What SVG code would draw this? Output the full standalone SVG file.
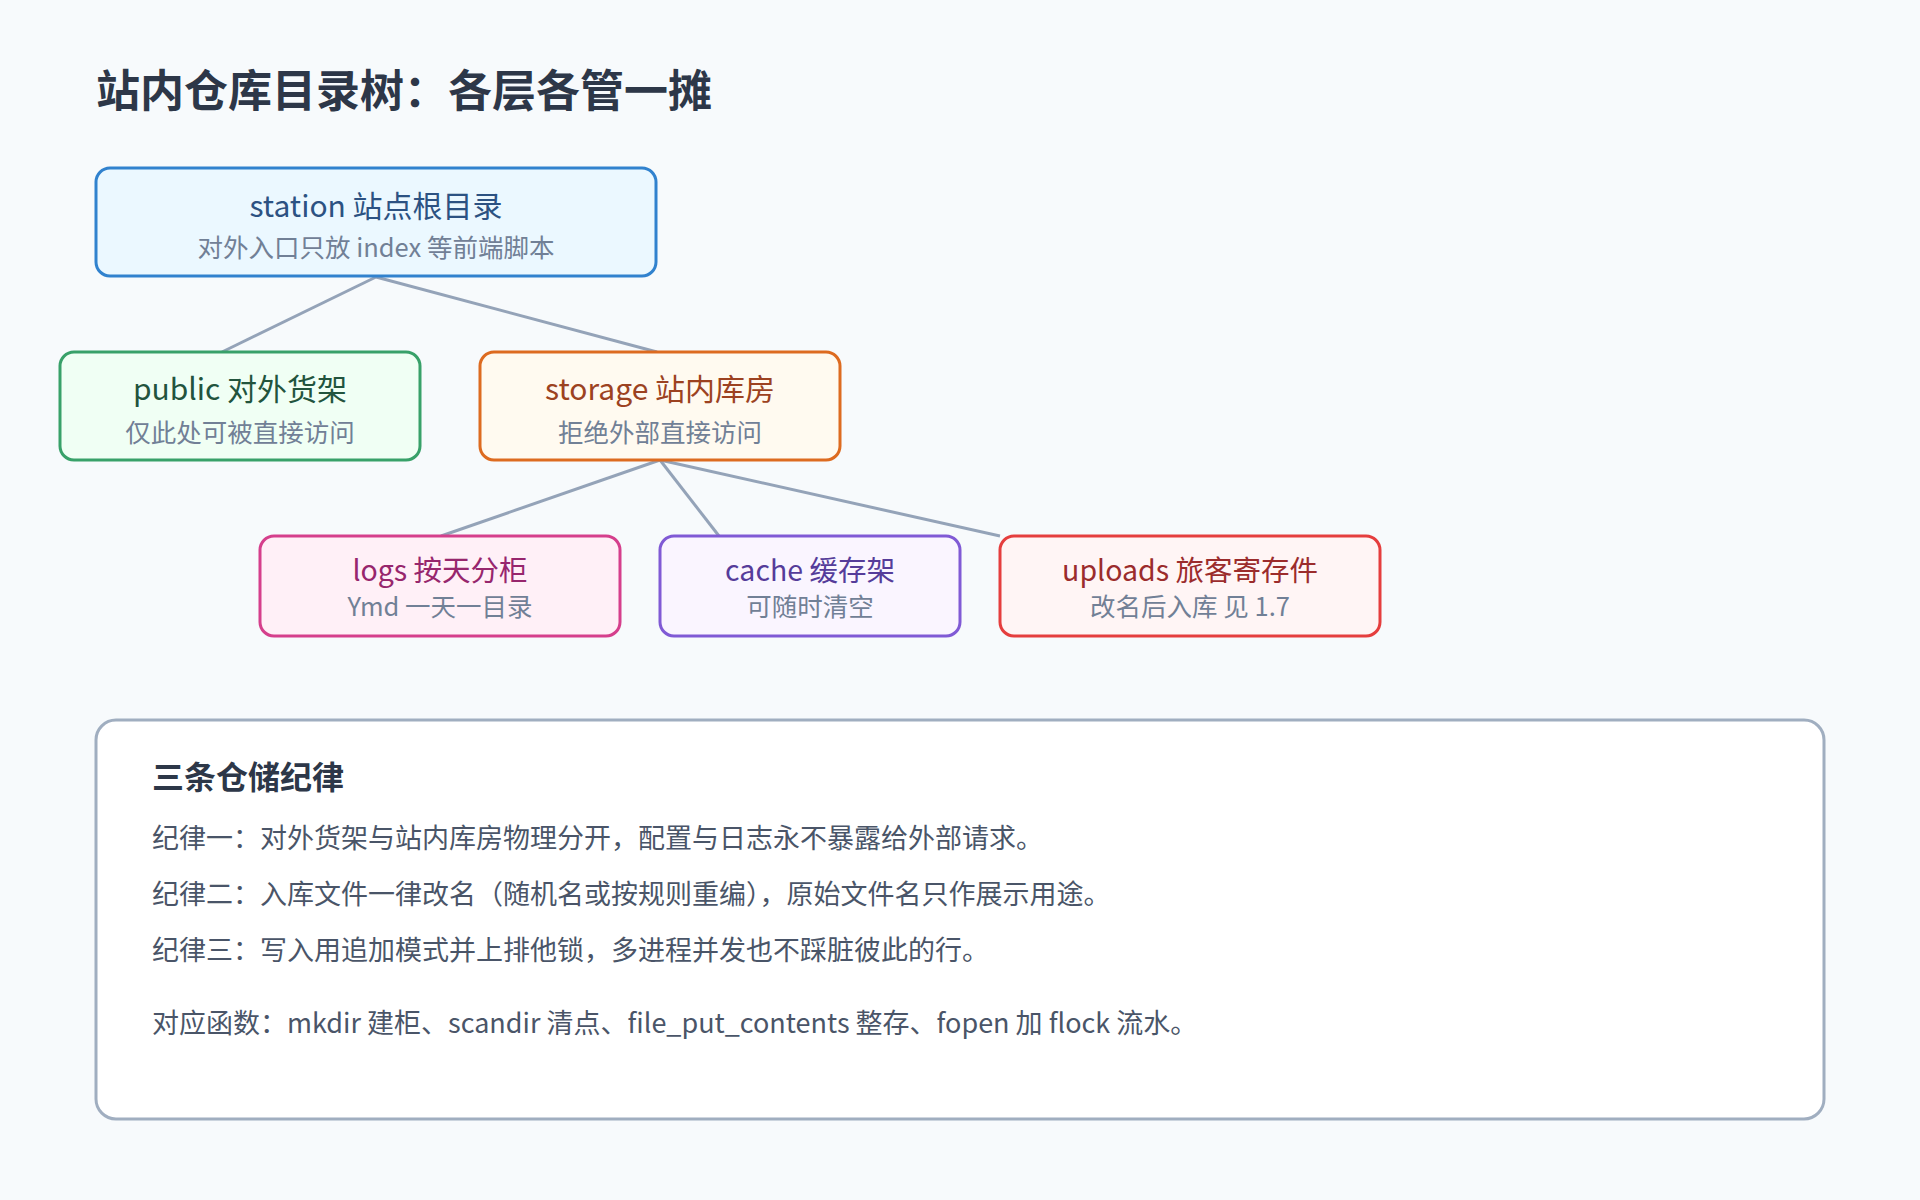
<svg xmlns="http://www.w3.org/2000/svg" width="1920" height="1200" viewBox="0 0 1920 1200">
<style>
text{font-family:"Noto Sans CJK SC","Noto Sans",sans-serif}
.node{stroke-width:3}
.t1{font-size:30px;text-anchor:middle}
.s1{font-size:25.5px;text-anchor:middle;fill:#718096}
.t2{font-size:28.5px;text-anchor:middle}
.s2{font-size:25.5px;text-anchor:middle;fill:#718096}
.edge{stroke:#94a3b8;stroke-width:3;fill:none}
.rule{font-size:27px;fill:#4a5568}
</style>
<rect width="1920" height="1200" fill="#f7fafc"/>
<text x="96" y="107" font-size="44" font-weight="bold" fill="#2d3748">站内仓库目录树：各层各管一摊</text>
<g id="connectors">
<line class="edge" x1="376" y1="277" x2="222" y2="352"/>
<line class="edge" x1="376" y1="277" x2="657" y2="352"/>
<line class="edge" x1="660" y1="460" x2="441" y2="536"/>
<line class="edge" x1="660" y1="460" x2="719" y2="536"/>
<line class="edge" x1="660" y1="460" x2="1000" y2="536"/>
</g>
<g id="station">
<rect class="node" x="96" y="168" width="560" height="108" rx="14" fill="#ebf8ff" stroke="#3182ce"/>
<text class="t1" x="376" y="217" fill="#2c5282">station 站点根目录</text>
<text class="s1" x="376" y="257">对外入口只放 index 等前端脚本</text>
</g>
<g id="public">
<rect class="node" x="60" y="352" width="360" height="108" rx="14" fill="#f0fff4" stroke="#38a169"/>
<text class="t1" x="240" y="400" fill="#22543d">public 对外货架</text>
<text class="s1" x="240" y="442">仅此处可被直接访问</text>
</g>
<g id="storage">
<rect class="node" x="480" y="352" width="360" height="108" rx="14" fill="#fffaf0" stroke="#dd6b20"/>
<text class="t1" x="660" y="400" fill="#9c4221">storage 站内库房</text>
<text class="s1" x="660" y="442">拒绝外部直接访问</text>
</g>
<g id="logs">
<rect class="node" x="260" y="536" width="360" height="100" rx="14" fill="#fff0f7" stroke="#d53f8c"/>
<text class="t2" x="440" y="581" fill="#97266d">logs 按天分柜</text>
<text class="s2" x="440" y="616">Ymd 一天一目录</text>
</g>
<g id="cache">
<rect class="node" x="660" y="536" width="300" height="100" rx="14" fill="#faf5ff" stroke="#805ad5"/>
<text class="t2" x="810" y="581" fill="#553c9a">cache 缓存架</text>
<text class="s2" x="810" y="616">可随时清空</text>
</g>
<g id="uploads">
<rect class="node" x="1000" y="536" width="380" height="100" rx="14" fill="#fff5f5" stroke="#e53e3e"/>
<text class="t2" x="1190" y="581" fill="#9b2c2c">uploads 旅客寄存件</text>
<text class="s2" x="1190" y="616">改名后入库 见 1.7</text>
</g>
<g id="rules">
<rect x="96" y="720" width="1728" height="399" rx="20" fill="#ffffff" stroke="#a0aec0" stroke-width="3"/>
<text x="152" y="789" font-size="32" font-weight="bold" fill="#2d3748">三条仓储纪律</text>
<text class="rule" x="152" y="848">纪律一：对外货架与站内库房物理分开，配置与日志永不暴露给外部请求。</text>
<text class="rule" x="152" y="904">纪律二：入库文件一律改名（随机名或按规则重编），原始文件名只作展示用途。</text>
<text class="rule" x="152" y="960">纪律三：写入用追加模式并上排他锁，多进程并发也不踩脏彼此的行。</text>
<text class="rule" x="152" y="1033">对应函数：mkdir 建柜、scandir 清点、file_put_contents 整存、fopen 加 flock 流水。</text>
</g>
</svg>
